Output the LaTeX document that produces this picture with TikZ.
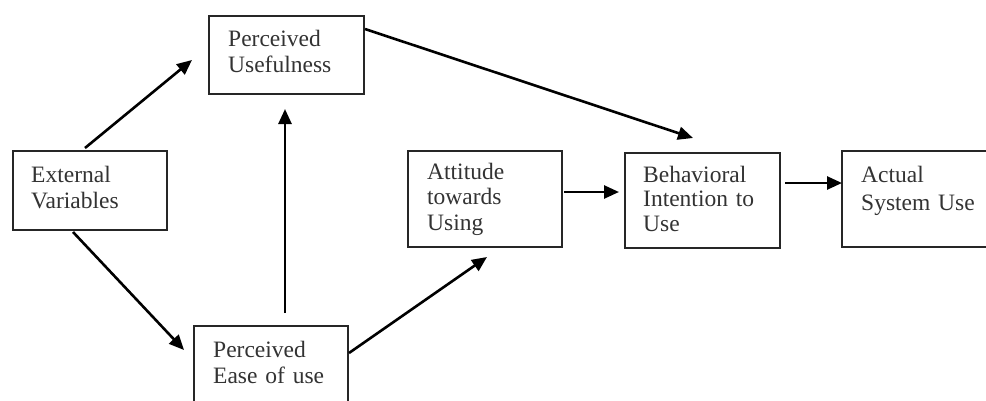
\documentclass[tikz,border=0pt]{standalone}
\usepackage{fontspec}
\setmainfont{Liberation Serif}
\usetikzlibrary{arrows.meta,calc}
\tikzset{
  box/.style={draw=black!85, line width=2pt, anchor=north west, inner sep=0pt, fill=white},
  lbl/.style={anchor=base west, inner sep=0pt, text width=140pt, align=left,
    font=\fontsize{23.5}{26}\selectfont, text=black!80},
  arr/.style={line width=2.6pt, -{Triangle[length=15pt,width=13pt]}}
}
\begin{document}
\begin{tikzpicture}[x=1pt,y=-1pt]
\useasboundingbox (0,0) rectangle (986,400);
\clip (0,0) rectangle (986,400);
\fill[white] (0,0) rectangle (986,400);
% boxes
\node[box, minimum width=154pt, minimum height=79pt] (ext) at (12,150) {};
\node[box, minimum width=155pt, minimum height=78pt] (pu) at (208,15) {};
\node[box, minimum width=154pt, minimum height=95pt] (peou) at (193,325) {};
\node[box, minimum width=154pt, minimum height=96pt] (att) at (407,150) {};
\node[box, minimum width=155pt, minimum height=95pt] (bi) at (624,152) {};
\node[box, minimum width=160pt, minimum height=96pt] (asu) at (841,150) {};
% labels
\node[lbl] (extt) at ($(ext.north west)+(19,32)$) {External\\Variables};
\node[lbl] (put) at ($(pu.north west)+(20,31)$) {Perceived\\Usefulness};
\node[lbl] (peout) at ($(peou.north west)+(20,32)$) {Perceived\\Ease of use};
\node[lbl, font=\fontsize{23.5}{25.5}\selectfont] (attt) at ($(att.north west)+(20,29)$) {Attitude\\towards\\Using};
\node[lbl, font=\fontsize{23.5}{24.8}\selectfont] (bit) at ($(bi.north west)+(19,30)$) {Behavioral\\Intention to\\Use};
\node[lbl, font=\fontsize{23.5}{28}\selectfont] (asut) at ($(asu.north west)+(20,32)$) {Actual\\System Use};
% arrows
\draw[arr] ($(ext.north west)+(73,-2)$) -- ($(pu.north west)+(-16,45)$);
\draw[arr] ($(ext.south west)+(61,1)$) -- ($(peou.north west)+(-9,25)$);
\draw[arr] ($(peou.north west)+(92,-12)$) -- ($(pu.south west)+(77,14)$);
\draw[arr] ($(peou.north east)+(0,28)$) -- ($(att.south west)+(80,9)$);
\draw[arr] ($(pu.north east)+(0,14)$) -- ($(bi.north west)+(69,-14)$);
\draw[arr] ($(att.north east)+(1,42)$) -- ($(bi.north west)+(-5,40)$);
\draw[arr] ($(bi.north east)+(4,31)$) -- ($(asu.north west)+(1,33)$);
\end{tikzpicture}
\end{document}
